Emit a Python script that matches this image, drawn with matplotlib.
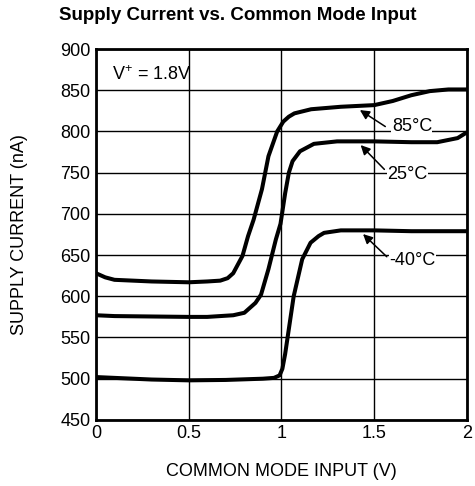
import matplotlib
matplotlib.use("Agg")
import matplotlib.pyplot as plt

plt.rcParams['font.family'] = ['Liberation Sans', 'DejaVu Sans']
plt.rcParams['mathtext.fontset'] = 'custom'
plt.rcParams['mathtext.rm'] = 'Liberation Sans'

# common mode input (V) vs supply current (nA)
x_85 = [0.0, 0.05, 0.1, 0.2, 0.3, 0.4, 0.5, 0.6, 0.67, 0.71, 0.74, 0.79, 0.82, 0.85,
        0.895, 0.93, 0.977, 1.01, 1.04, 1.07, 1.16, 1.32, 1.5, 1.6, 1.7, 1.8, 1.9, 2.0]
y_85 = [628, 623, 620, 619, 618, 617.5, 617, 618, 619, 622, 628, 649, 673, 693,
        730, 770, 800, 812, 818, 822, 827, 830, 832, 837, 844, 849, 851, 851]

x_25 = [0.0, 0.1, 0.3, 0.5, 0.6, 0.74, 0.8, 0.83, 0.86, 0.89, 0.93, 0.97, 0.995, 1.02,
        1.04, 1.06, 1.1, 1.175, 1.3, 1.5, 1.7, 1.84, 1.95, 2.0]
y_25 = [577, 576, 575.5, 575, 575, 577, 580, 586, 592, 602, 633, 669, 688, 725,
        750, 764, 776, 785, 788, 788, 787, 787, 792, 799]

x_m40 = [0.0, 0.1, 0.3, 0.5, 0.7, 0.9, 0.96, 0.99, 1.005, 1.02, 1.066, 1.112,
         1.157, 1.2, 1.23, 1.32, 1.5, 1.7, 2.0]
y_m40 = [502, 501, 499, 498, 498.5, 500, 501, 504, 512, 530, 600, 645,
         665, 673, 677, 680, 680, 679, 679]

series = [(x_85, y_85), (x_25, y_25), (x_m40, y_m40)]

labels = ['85°C', '25°C', '-40°C']
arrow_tips = [(1.423, 826), (1.427, 783.5), (1.44, 675.5)]
arrow_tails = [(1.56, 806), (1.555, 754), (1.568, 648)]
label_pos = [(1.595, 806), (1.57, 748), (1.58, 644)]

xticks = [0, 0.5, 1, 1.5, 2]
xticklabels = ['0', '0.5', '1', '1.5', '2']
yticks = [450, 500, 550, 600, 650, 700, 750, 800, 850, 900]

fig = plt.figure(figsize=(4.75, 4.86), dpi=100)
ax = fig.add_axes([0.202, 0.136, 0.781, 0.763])

for xs, ys in series:
    ax.plot(xs, ys, color='black', linewidth=2.9, solid_capstyle='butt', zorder=3)

for lab, tip, tail, pos in zip(labels, arrow_tips, arrow_tails, label_pos):
    ax.annotate('', xy=tip, xytext=tail,
                arrowprops=dict(arrowstyle='-|>', color='black', lw=1.1,
                                mutation_scale=14, shrinkA=0, shrinkB=0),
                zorder=4)
    ax.text(pos[0], pos[1], lab, fontsize=13, ha='left', va='center',
            zorder=5, bbox=dict(facecolor='white', edgecolor='none', pad=0.3))

ax.text(0.085, 869, r'V$^{+}$ = 1.8V', fontsize=13, ha='left', va='center')

ax.set_xlim(0, 2)
ax.set_ylim(450, 900)
ax.set_xticks(xticks)
ax.set_xticklabels(xticklabels)
ax.set_yticks(yticks)
ax.tick_params(length=0, labelsize=13, pad=4)
ax.grid(True, color='black', linewidth=1.0)
ax.set_axisbelow(True)
for s in ax.spines.values():
    s.set_linewidth(2.0)

ax.set_xlabel('COMMON MODE INPUT (V)', fontsize=13)
ax.set_ylabel('SUPPLY CURRENT (nA)', fontsize=13)
ax.xaxis.set_label_coords(0.5, -0.115)
ax.yaxis.set_label_coords(-0.183, 0.5)
fig.suptitle('Supply Current vs. Common Mode Input', fontsize=13.5, fontweight='bold',
             x=0.5, y=0.985)

fig.savefig('out.png', dpi=100)
